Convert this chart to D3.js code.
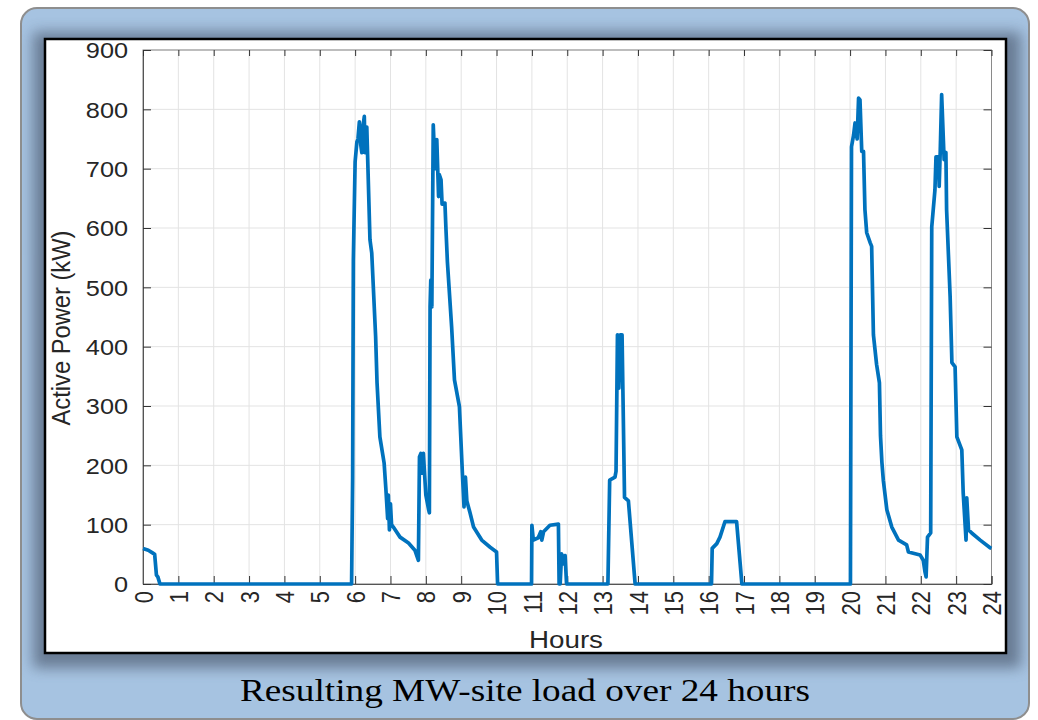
<!DOCTYPE html>
<html>
<head>
<meta charset="utf-8">
<script src="https://cdn.jsdelivr.net/npm/d3@7"></script>
<style>
  html, body { margin: 0; padding: 0; background: #ffffff; }
  svg { display: block; }
</style>
</head>
<body>
<svg id="chart" width="1038" height="720"></svg>
<script>
// ---- data ----
const hours = [
  0, 0.15, 0.28, 0.33, 0.38, 0.42, 0.48,
  5.90,
  5.93, 5.95, 5.97, 6.00, 6.05, 6.08, 6.12, 6.16, 6.19, 6.22, 6.26, 6.28, 6.33, 6.42, 6.47, 6.58, 6.62, 6.70, 6.82, 6.87, 6.89, 6.92, 6.94, 6.97, 7.00, 7.03, 7.08, 7.27, 7.51, 7.69, 7.79,
  7.82, 7.86, 7.88, 7.93, 8.00, 8.08, 8.10, 8.12, 8.14, 8.17, 8.21, 8.26, 8.31, 8.36, 8.38, 8.43, 8.46, 8.54, 8.57, 8.61, 8.73, 8.81, 8.95, 9.03, 9.08, 9.12, 9.16, 9.25, 9.35, 9.58, 9.82, 10.00, 10.03,
  10.99,
  11.00, 11.04, 11.18, 11.25, 11.28, 11.33, 11.51, 11.75, 11.77, 11.80, 11.84, 11.89, 11.94, 11.98,
  13.15,
  13.20, 13.35, 13.38, 13.42, 13.46, 13.50, 13.55, 13.62, 13.73, 13.92,
  16.08,
  16.10, 16.23, 16.32, 16.46, 16.79, 16.94,
  20.01,
  20.04, 20.10, 20.14, 20.20, 20.24, 20.28, 20.33, 20.38, 20.42, 20.47, 20.57, 20.61, 20.66, 20.75, 20.83, 20.86, 20.90, 20.94, 21.04, 21.18, 21.37, 21.60, 21.65, 21.98, 22.07, 22.12, 22.15,
  22.19, 22.28, 22.31, 22.40, 22.43, 22.50, 22.52, 22.55, 22.59, 22.66, 22.71, 22.73, 22.83, 22.88, 22.97, 23.02, 23.16, 23.20, 23.28, 23.30, 23.35, 23.44, 23.68, 23.96, 24.00
];
const power = [
  60, 57, 52, 50, 15, 12, 0,
  0,
  180, 546, 614, 712, 745, 750, 779, 740, 727, 770, 788, 727, 770, 580, 558, 417, 339, 248, 204, 160, 140, 110, 150, 91, 135, 100, 96, 79, 69, 57, 40,
  214, 220, 187, 220, 150, 125, 120, 467, 512, 467, 774, 700, 749, 653, 690, 681, 640, 642, 597, 543, 433, 344, 299, 192, 130, 180, 140, 120, 96, 74, 62, 54, 0,
  0,
  99, 74, 78, 88, 74, 88, 99, 101, 0, 0, 51, 34, 48, 0,
  0,
  175, 180, 190, 420, 330, 420, 420, 146, 140, 0,
  0,
  60, 68, 79, 105, 105, 0,
  0,
  737, 757, 777, 750, 819, 816, 729, 729, 631, 592, 575, 569, 420, 370, 339, 250, 205, 175, 125, 96, 74, 66, 54, 49, 40, 20, 12,
  79, 86, 602, 664, 720, 720, 670, 729, 825, 715, 727, 631, 484, 373, 366, 248, 226, 153, 74, 145, 91, 86, 74, 61, 60
];
const xTicks = d3.range(0, 25, 1);
const yTicks = d3.range(0, 1000, 100);
const xLabel = "Hours";
const yLabel = "Active Power (kW)";
const caption = "Resulting MW-site load over 24 hours";

// ---- layout ----
const svg = d3.select("#chart");
const L = 143, R = 991.5, T = 50, B = 584;
const x = d3.scaleLinear().domain([0, 24]).range([L, R]);
const y = d3.scaleLinear().domain([0, 900]).range([B, T]);

// ---- frame ----
const defs = svg.append("defs");
const f = defs.append("filter").attr("id", "shadow").attr("x", "-10%").attr("y", "-10%").attr("width", "120%").attr("height", "120%");
f.append("feGaussianBlur").attr("stdDeviation", 7);
defs.append("clipPath").attr("id", "panelClip")
  .append("rect").attr("x", 21).attr("y", 8).attr("width", 1008).attr("height", 711).attr("rx", 16);

svg.append("rect").attr("x", 21).attr("y", 8).attr("width", 1008).attr("height", 711).attr("rx", 16)
  .attr("fill", "#a6c3e1").attr("stroke", "#8e8e8e").attr("stroke-width", 2);
svg.append("g").attr("clip-path", "url(#panelClip)")
  .append("rect").attr("x", 33).attr("y", 32).attr("width", 988).attr("height", 636)
  .attr("fill", "#5f7087").attr("opacity", 0.85).attr("filter", "url(#shadow)");
svg.append("rect").attr("x", 45).attr("y", 39).attr("width", 961).attr("height", 614)
  .attr("fill", "#ffffff").attr("stroke", "#000").attr("stroke-width", 2.5);

// ---- grid ----
const grid = svg.append("g");
grid.selectAll("line.v").data(xTicks).join("line")
  .attr("x1", d => x(d)).attr("x2", d => x(d)).attr("y1", T).attr("y2", B)
  .attr("stroke", "#e3e3e3").attr("stroke-width", 1);
grid.selectAll("line.h").data(yTicks).join("line")
  .attr("x1", L).attr("x2", R).attr("y1", d => y(d)).attr("y2", d => y(d))
  .attr("stroke", "#e3e3e3").attr("stroke-width", 1);

// ---- box + axes ----
svg.append("rect").attr("x", L).attr("y", T).attr("width", R - L).attr("height", B - T)
  .attr("fill", "none").attr("stroke", "#8a8a8a").attr("stroke-width", 1);

const font = "Liberation Sans, Arial, Helvetica, sans-serif";

const gx = svg.append("g").attr("transform", `translate(0,${B})`)
  .call(d3.axisBottom(x).tickValues(xTicks).tickSize(-8).tickFormat(d3.format("d")));
gx.select(".domain").attr("stroke", "#555");
gx.selectAll(".tick line").attr("stroke", "#333");
gx.selectAll(".tick text")
  .attr("x", -7).attr("y", 0).attr("dy", "0.36em")
  .attr("text-anchor", "end")
  .attr("transform", "scale(1.15,1) rotate(-90)")
  .style("font-family", font).style("font-size", "22px").attr("fill", "#262626");

const gy = svg.append("g").attr("transform", `translate(${L},0)`)
  .call(d3.axisLeft(y).tickValues(yTicks).tickSize(-8).tickFormat(d3.format("d")));
gy.select(".domain").attr("stroke", "#555");
gy.selectAll(".tick line").attr("stroke", "#333");
gy.selectAll(".tick text")
  .attr("x", -13).attr("dy", "0.36em")
  .attr("transform", "scale(1.15,1)")
  .style("font-family", font).style("font-size", "22px").attr("fill", "#262626");

const gt = svg.append("g").attr("transform", `translate(0,${T})`)
  .call(d3.axisTop(x).tickValues(xTicks).tickSize(-6).tickFormat(""));
gt.select(".domain").remove();
gt.selectAll(".tick line").attr("stroke", "#333");

const gr = svg.append("g").attr("transform", `translate(${R},0)`)
  .call(d3.axisRight(y).tickValues(yTicks).tickSize(-8).tickFormat(""));
gr.select(".domain").remove();
gr.selectAll(".tick line").attr("stroke", "#333");

// ---- line ----
const pts = hours.map((h, i) => [h, power[i]]);
svg.append("path").datum(pts)
  .attr("fill", "none").attr("stroke", "#0072BD").attr("stroke-width", 3.7)
  .attr("stroke-linejoin", "round")
  .attr("d", d3.line().x(d => x(d[0])).y(d => y(d[1])));

// ---- labels ----
svg.append("text").text(xLabel)
  .attr("x", 566).attr("y", 648).attr("text-anchor", "middle")
  .attr("textLength", 74).attr("lengthAdjust", "spacingAndGlyphs")
  .style("font-family", font).style("font-size", "23px").attr("fill", "#262626");

svg.append("text").text(yLabel)
  .attr("transform", "translate(70,328) scale(1.15,1) rotate(-90)")
  .attr("text-anchor", "middle")
  .attr("textLength", 195).attr("lengthAdjust", "spacingAndGlyphs")
  .style("font-family", font).style("font-size", "23px").attr("fill", "#262626");

svg.append("text").text(caption)
  .attr("x", 525).attr("y", 701).attr("text-anchor", "middle")
  .attr("textLength", 570).attr("lengthAdjust", "spacingAndGlyphs")
  .style("font-family", "Liberation Serif, 'Times New Roman', serif").style("font-size", "32px").attr("fill", "#000");
</script>
</body>
</html>
